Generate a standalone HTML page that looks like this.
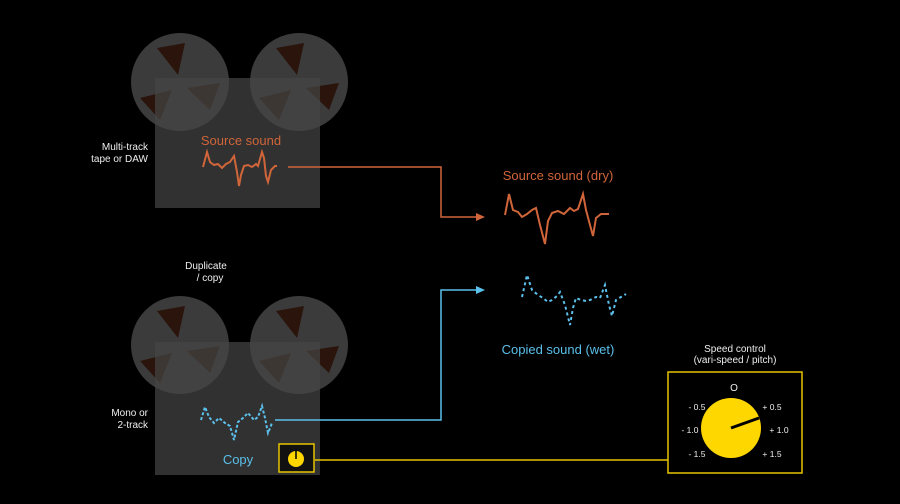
<!DOCTYPE html>
<html><head><style>
body{margin:0;background:#000;}
svg{display:block;font-family:"Liberation Sans",sans-serif;}
</style></head><body>
<svg width="900" height="504" viewBox="0 0 900 504">
<defs>
<g id="reel">
<circle cx="0" cy="0" r="49" fill="#3b3b3b"/>
<polygon points="-23,-34 5,-39 -2,-7" fill="#2a140c"/>
<polygon points="-40,16 -8,8 -20,38" fill="#2a140c"/>
<polygon points="7,6 40,1 30,28" fill="#2a140c"/>
</g>
</defs>
<rect width="900" height="504" fill="#000"/>
<!-- top machine -->
<use href="#reel" x="180" y="82"/>
<use href="#reel" x="299" y="82"/>
<rect x="155" y="78" width="165" height="130" fill="rgb(70,70,70)" opacity="0.7"/>
<text x="241" y="145" fill="#d0653a" font-size="13" text-anchor="middle">Source sound</text>
<polyline points="203,167 207,152 210,162 214,165 218,164 222,168 226,164 230,162 234,156 237,172 239,186 241,175 244,166 248,165 252,167 256,164 258,166 262,152 264,158 266,176 268,182 271,170 275,166 277,166" fill="none" stroke="#d0653a" stroke-width="2"/>
<text x="148" y="150" fill="#eee" font-size="10" text-anchor="end">Multi-track</text>
<text x="148" y="162" fill="#eee" font-size="10" text-anchor="end">tape or DAW</text>
<polyline points="288,167 441,167 441,217 478,217" fill="none" stroke="#d0653a" stroke-width="1.5"/>
<polygon points="485,217 476,213 476,221" fill="#d0653a"/>
<text x="558" y="180" fill="#d0653a" font-size="13" text-anchor="middle">Source sound (dry)</text>
<polyline points="505,215 509,194 513,210 518,212 522,217 527,214 532,210 536,208 540,225 545,244 548,221 552,213 558,211 564,214 570,208 574,211 578,209 583,194 586,210 590,225 593,236 596,218 601,214 609,214" fill="none" stroke="#d0653a" stroke-width="2"/>
<!-- bottom machine -->
<text x="206" y="269" fill="#eee" font-size="10" text-anchor="middle">Duplicate</text>
<text x="210" y="281" fill="#eee" font-size="10" text-anchor="middle">/ copy</text>
<use href="#reel" x="180" y="345"/>
<use href="#reel" x="299" y="345"/>
<rect x="155" y="342" width="165" height="133" fill="rgb(70,70,70)" opacity="0.7"/>
<polyline points="201,420 205,407 209,417 214,423 219,418 225,423 230,426 234,440 238,422 243,418 248,413 254,420 258,417 262,406 265,418 268,433 272,423" fill="none" stroke="#5bc0eb" stroke-width="2" stroke-dasharray="3,2"/>
<text x="238" y="464" fill="#5bc0eb" font-size="13" text-anchor="middle">Copy</text>
<text x="148" y="416" fill="#eee" font-size="10" text-anchor="end">Mono or</text>
<text x="148" y="428" fill="#eee" font-size="10" text-anchor="end">2-track</text>
<rect x="279" y="444" width="35" height="28" fill="#111" stroke="#e8c400" stroke-width="1.5"/>
<circle cx="296" cy="459" r="8" fill="#ffd700"/>
<line x1="296" y1="459" x2="296" y2="450" stroke="#000" stroke-width="1.5"/>
<polyline points="275,420 441,420 441,290 478,290" fill="none" stroke="#5bc0eb" stroke-width="1.5"/>
<polygon points="485,290 476,286 476,294" fill="#5bc0eb"/>
<polyline points="522,297 527,275 532,290 538,295 543,298 548,302 552,300 557,296 560,292 565,305 570,325 573,308 576,298 581,300 586,301 590,300 596,297 600,298 605,285 609,305 612,316 616,300 626,294" fill="none" stroke="#5bc0eb" stroke-width="2" stroke-dasharray="3,3"/>
<text x="558" y="354" fill="#5bc0eb" font-size="13" text-anchor="middle">Copied sound (wet)</text>
<!-- speed control -->
<line x1="315" y1="460" x2="668" y2="460" stroke="#e8c400" stroke-width="1.5"/>
<text x="735" y="352" fill="#eee" font-size="10" text-anchor="middle">Speed control</text>
<text x="735" y="363" fill="#eee" font-size="10" text-anchor="middle">(vari-speed / pitch)</text>
<rect x="668" y="372" width="134" height="101" fill="#000" stroke="#e8c400" stroke-width="1.5"/>
<text x="734" y="391" fill="#eee" font-size="10" text-anchor="middle">O</text>
<g fill="#eee" font-size="8.5" text-anchor="middle">
<text x="697" y="410">- 0.5</text><text x="772" y="410">+ 0.5</text>
<text x="690" y="433">- 1.0</text><text x="779" y="433">+ 1.0</text>
<text x="697" y="457">- 1.5</text><text x="772" y="457">+ 1.5</text>
</g>
<circle cx="731" cy="428" r="30" fill="#ffd700"/>
<line x1="731" y1="428" x2="759" y2="418" stroke="#000" stroke-width="3"/>
</svg>
</body></html>
